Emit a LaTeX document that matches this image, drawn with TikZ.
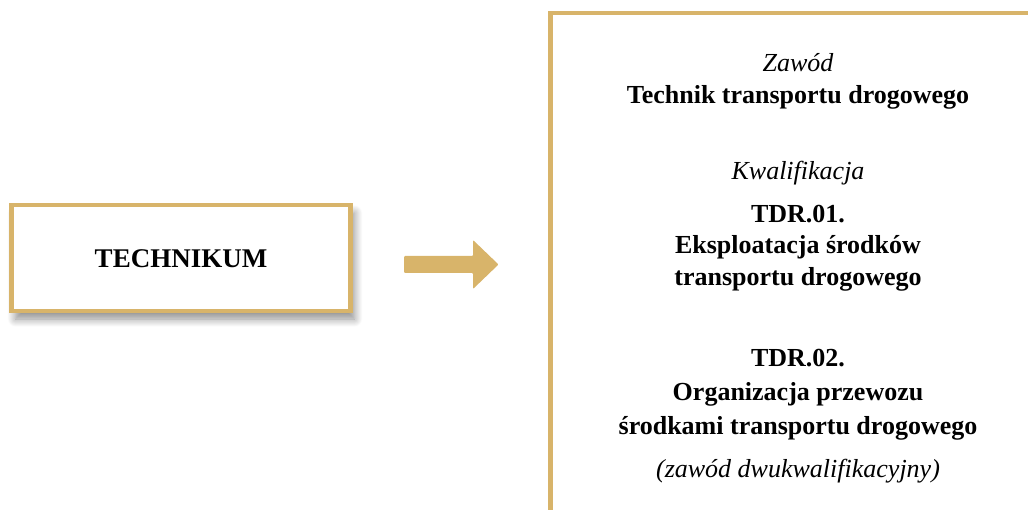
\documentclass[tikz,border=0pt]{standalone}
\usepackage{fontspec}
\setmainfont{Liberation Serif}
\usetikzlibrary{shadows.blur}
\definecolor{gold}{RGB}{216,180,106}
\tikzset{
  goldline/.style={draw=gold,line width=4.5pt},
  lbl/.style={anchor=base,inner sep=0pt,font=\fontsize{26}{30}\selectfont},
  blbl/.style={lbl,font=\fontsize{26}{30}\selectfont\bfseries},
  ilbl/.style={lbl,font=\fontsize{26}{30}\selectfont\itshape},
}
\begin{document}
\begin{tikzpicture}[x=1pt,y=-1pt]
\useasboundingbox (0,0) rectangle (1028,510);
% left box
\node[goldline,fill=white,minimum width=339pt,minimum height=106pt,inner sep=0pt,
      blur shadow={shadow xshift=4pt,shadow yshift=-8pt,shadow blur radius=8pt,shadow blur steps=12,shadow opacity=45}]
  (tech) at (181,258) {};
\node[blbl,font=\fontsize{27}{30}\selectfont\bfseries] (techlbl) at (181,268) {TECHNIKUM};
% arrow
\coordinate (a1) at (404,256);
\coordinate (a2) at (473,256);
\coordinate (a3) at (473,240);
\coordinate (a4) at (498.5,264.5);
\coordinate (a5) at (473,289);
\coordinate (a6) at (473,273);
\coordinate (a7) at (404,273);
\fill[gold,rounded corners=1pt] (a1) -- (a2) -- (a3) -- (a4) -- (a5) -- (a6) -- (a7) -- cycle;
% right box (open)
\coordinate (rb) at (550.5,520);
\coordinate (rc) at (550.5,13);
\coordinate (rt) at (1040,13);
\draw[goldline] (rb) -- (rc) -- (rt);
% texts
\node[ilbl] (zawod) at (798,72) {Zawód};
\node[blbl] (zawodname) at (798,104) {Technik transportu drogowego};
\node[ilbl] (kwal) at (798,180) {Kwalifikacja};
\node[blbl] (tdra) at (798,223) {TDR.01.};
\node[blbl] (tdrb) at (798,254) {Eksploatacja środków};
\node[blbl] (tdrc) at (798,286) {transportu drogowego};
\node[blbl] (tdrd) at (798,367) {TDR.02.};
\node[blbl] (tdre) at (798,401) {Organizacja przewozu};
\node[blbl] (tdrf) at (798,435) {środkami transportu drogowego};
\node[ilbl] (note) at (798,477) {(zawód dwukwalifikacyjny)};
\end{tikzpicture}
\end{document}
